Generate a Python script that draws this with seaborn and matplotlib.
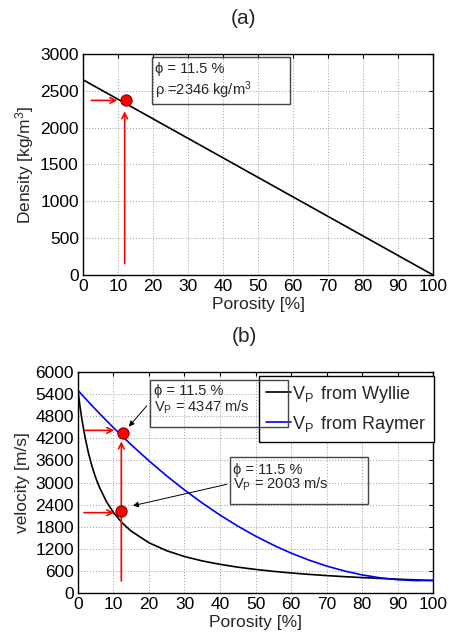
import matplotlib
matplotlib.use("Agg")
import matplotlib.pyplot as plt
import seaborn as sns
import pandas as pd
from matplotlib.patches import Rectangle

# ---------------- data ----------------
porosity_a = [0, 100]
density = [2650, 0]

porosity_b = [0, 0.5, 1, 2, 3, 4, 5, 6, 8, 10, 12.5, 15, 20, 25, 30, 35, 40, 45,
              50, 55, 60, 65, 70, 75, 80, 85, 90, 95, 100]
vp_wyllie = [5500, 5112, 4775, 4219, 3779, 3422, 3127, 2879, 2484, 2185, 1898, 1679,
             1363, 1147, 990, 871, 778, 702, 640, 588, 544, 506, 473, 444, 419, 396,
             375, 357, 340]
vp_raymer = [5500, 5447, 5394, 5289, 5185, 5082, 4981, 4880, 4682, 4489, 4253, 4025,
             3588, 3179, 2797, 2443, 2116, 1817, 1545, 1301, 1084, 895, 733, 599, 492,
             413, 361, 337, 340]

point_a = (12.3, 2370)
points_b_x = [12.8, 12.2]
points_b_y = [4344, 2217]

xticks = list(range(0, 101, 10))
yticks_a = list(range(0, 3001, 500))
yticks_b = list(range(0, 6001, 600))

# ---------------- style ----------------
sns.set_style("white")
plt.rcParams["font.family"] = ["Liberation Sans", "DejaVu Sans"]
plt.rcParams["mathtext.fontset"] = "custom"
plt.rcParams["mathtext.rm"] = "Liberation Sans"
plt.rcParams["mathtext.it"] = "Liberation Sans:italic"

fig = plt.figure(figsize=(4.49, 6.33), dpi=100)
ax1 = fig.add_axes([0.1849, 0.5656, 0.9644 - 0.1849, 0.9147 - 0.5656])
ax2 = fig.add_axes([0.1737, 0.0632, 0.9644 - 0.1737, 0.4123 - 0.0632])

FS = 12.5


def style_axes(ax, yticks, ymax):
    ax.set_xlim(0, 100)
    ax.set_ylim(0, ymax)
    ax.set_xticks(xticks)
    ax.set_yticks(yticks)
    ax.grid(True, linestyle=(0, (1, 2)), color="#9a9a9a", linewidth=0.7)
    ax.set_axisbelow(True)
    for s in ax.spines.values():
        s.set_color("black")
        s.set_linewidth(1.0)
        s.set_visible(True)
    ax.tick_params(direction="in", length=3, width=0.8, labelsize=FS,
                   top=True, right=True, pad=3, colors="black")


# ---------------- panel (a) ----------------
df_a = pd.DataFrame({"Porosity": porosity_a, "Density": density})
sns.lineplot(data=df_a, x="Porosity", y="Density", ax=ax1, color="black", linewidth=1.2)
style_axes(ax1, yticks_a, 3000)
ax1.set_xlabel("Porosity [%]", fontsize=FS)
ax1.set_ylabel("Density [kg/m$^3$]", fontsize=FS)
ax1.xaxis.set_label_coords(0.5, -0.1)
ax1.yaxis.set_label_coords(-0.135, 0.5)

ax1.annotate("", xy=(10.6, point_a[1]), xytext=(1.6, point_a[1]),
             arrowprops=dict(arrowstyle="->", color="red", lw=1.2, mutation_scale=10))
ax1.annotate("", xy=(11.9, 2260), xytext=(11.9, 117),
             arrowprops=dict(arrowstyle="->", color="red", lw=1.2, mutation_scale=10))
sns.scatterplot(x=[point_a[0]], y=[point_a[1]], ax=ax1, color="red", s=65,
                edgecolor="#8b0000", linewidth=0.8, zorder=5)
ax1.add_patch(Rectangle((19.7, 2318), 59.1 - 19.7, 2955 - 2318, fill=False,
                        edgecolor="#444444", linewidth=1.0, zorder=4))
ax1.text(20.6, 2792, "ϕ = 11.5 %", fontsize=10.5, va="center", ha="left")
ax1.text(20.6, 2512, "ρ =2346 kg/m$^3$", fontsize=10.5, va="center", ha="left")

# ---------------- panel (b) ----------------
df_b = pd.DataFrame({"Porosity": porosity_b + porosity_b,
                     "velocity": vp_wyllie + vp_raymer,
                     "model": [r"V$_\mathrm{P}\,$ from Wyllie"] * len(porosity_b)
                              + [r"V$_\mathrm{P}\,$ from Raymer"] * len(porosity_b)})
sns.lineplot(data=df_b, x="Porosity", y="velocity", hue="model", ax=ax2,
             palette=["black", "blue"], linewidth=1.2)
style_axes(ax2, yticks_b, 6000)
ax2.set_xlabel("Porosity [%]", fontsize=FS)
ax2.set_ylabel("velocity [m/s]", fontsize=FS)
ax2.xaxis.set_label_coords(0.5, -0.1)
ax2.yaxis.set_label_coords(-0.135, 0.5)

leg = ax2.legend(loc="upper left", bbox_to_anchor=(51, 5882), bbox_transform=ax2.transData,
                 fontsize=13, frameon=True, fancybox=False, framealpha=1,
                 edgecolor="black", handlelength=1.35, handletextpad=0.1,
                 borderpad=0.4, labelspacing=0.5, borderaxespad=0)
leg.get_frame().set_linewidth(1.0)
leg.set_zorder(3)

# red arrows
ax2.annotate("", xy=(11.0, 4416), xytext=(1.1, 4416),
             arrowprops=dict(arrowstyle="->", color="red", lw=1.2, mutation_scale=10))
ax2.annotate("", xy=(11.0, 2181), xytext=(0.9, 2181),
             arrowprops=dict(arrowstyle="->", color="red", lw=1.2, mutation_scale=10))
ax2.annotate("", xy=(12.2, 4190), xytext=(12.2, 253),
             arrowprops=dict(arrowstyle="->", color="red", lw=1.2, mutation_scale=10))
sns.scatterplot(x=points_b_x, y=points_b_y, ax=ax2, color="red", s=65,
                edgecolor="#8b0000", linewidth=0.8, zorder=5, legend=False)

# text boxes + black arrows
ax2.add_patch(Rectangle((20.4, 4507), 59.2 - 20.4, 5774 - 4507, fill=False,
                        edgecolor="#444444", linewidth=1.0, zorder=6))
ax2.text(21.5, 5475, "ϕ = 11.5 %", fontsize=10.5, va="center", ha="left", zorder=6)
ax2.text(21.5, 5032, r"V$_\mathrm{P}$ = 4347 m/s", fontsize=10.5, va="center", ha="left", zorder=6)
ax2.annotate("", xy=(13.8, 4461), xytext=(19.9, 5140),
             arrowprops=dict(arrowstyle="-|>", color="black", lw=0.7, mutation_scale=8))

ax2.add_patch(Rectangle((42.7, 2416), 81.6 - 42.7, 3692 - 2416, fill=False,
                        edgecolor="#444444", linewidth=1.0, zorder=6))
ax2.text(43.8, 3330, "ϕ = 11.5 %", fontsize=10.5, va="center", ha="left", zorder=6)
ax2.text(43.8, 2950, r"V$_\mathrm{P}$ = 2003 m/s", fontsize=10.5, va="center", ha="left", zorder=6)
ax2.annotate("", xy=(14.7, 2353), xytext=(42.7, 2968),
             arrowprops=dict(arrowstyle="-|>", color="black", lw=0.7, mutation_scale=8))

# panel titles
fig.text(244 / 449, 1 - 18 / 633, "(a)", fontsize=15, ha="center", va="center")
fig.text(244 / 449, 1 - 337 / 633, "(b)", fontsize=15, ha="center", va="center")

fig.savefig("out.png", dpi=100)
